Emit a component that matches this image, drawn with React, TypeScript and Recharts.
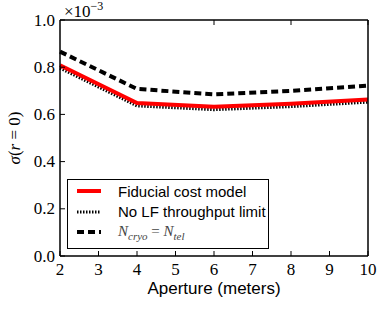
import React from 'react';
import { LineChart, Line, XAxis, YAxis, Label } from 'recharts';

const apertures = [2, 4, 6, 8, 10];
const fiducialCost = [0.808, 0.648, 0.632, 0.645, 0.663];
const noLfLimit = [0.796, 0.636, 0.62, 0.633, 0.652];
const cryoEqTel = [0.866, 0.708, 0.685, 0.7, 0.722];
const xTicks = [2, 3, 4, 5, 6, 7, 8, 9, 10];
const yTicks = [0, 0.2, 0.4, 0.6, 0.8, 1.0];

const data = apertures.map((a, i) => ({
  aperture: a,
  fiducial: fiducialCost[i],
  noLf: noLfLimit[i],
  cryo: cryoEqTel[i],
}));

const SERIF = '"Liberation Serif", "DejaVu Serif", serif';
const SANS = '"Liberation Sans", Arial, sans-serif';
const TICK_LEN = 5;
const X_MARGIN = 7;
const Y_MARGIN = 5;

function BottomTick(props: any) {
  const { x, y, payload } = props;
  const axisY = y - X_MARGIN;
  return (
    <g>
      <line x1={x} x2={x} y1={axisY} y2={axisY - TICK_LEN} stroke="#000" />
      <text x={x} y={y} dy="0.71em" textAnchor="middle" style={{ fontFamily: SERIF, fontSize: 17 }} fill="#000">
        {payload.value}
      </text>
    </g>
  );
}

function LeftTick(props: any) {
  const { x, y, payload } = props;
  const axisX = x + Y_MARGIN;
  return (
    <g>
      <line x1={axisX} x2={axisX + TICK_LEN} y1={y} y2={y} stroke="#000" />
      <text x={x} y={y} dy="0.33em" textAnchor="end" style={{ fontFamily: SERIF, fontSize: 17 }} fill="#000">
        {Number(payload.value).toFixed(1)}
      </text>
    </g>
  );
}

function TopTick(props: any) {
  const { x, y } = props;
  return <line x1={x} x2={x} y1={y} y2={y + TICK_LEN} stroke="#000" />;
}

function RightTick(props: any) {
  const { x, y } = props;
  return <line x1={x} x2={x - TICK_LEN} y1={y} y2={y} stroke="#000" />;
}

function SigmaLabel(props: any) {
  const vb = props.viewBox || {};
  const cx = vb.x + 14;
  const cy = vb.y + vb.height / 2;
  return (
    <text x={cx} y={cy} transform={`rotate(-90, ${cx}, ${cy})`} textAnchor="middle" dy="0.35em"
      style={{ fontFamily: SERIF, fontSize: 17 }} fill="#000">
      <tspan fontStyle="italic">σ</tspan>(<tspan fontStyle="italic">r</tspan> = 0)
    </text>
  );
}

function LegendRow({ top, sample, children }: { top: number; sample: React.ReactNode; children: React.ReactNode }) {
  return (
    <div style={{ position: 'absolute', left: 0, top, height: 20, display: 'flex', alignItems: 'center' }}>
      <svg width={50} height={20} style={{ display: 'block' }}>{sample}</svg>
      <span style={{ whiteSpace: 'nowrap' }}>{children}</span>
    </div>
  );
}

export default function App() {
  const axisLine = { stroke: '#000', strokeWidth: 1.5 };
  return (
    <div style={{ position: 'absolute', left: 0, top: 0, width: 388, height: 310, background: '#fff' }}>
      <LineChart width={388} height={310} data={data} margin={{ top: 19, right: 19, bottom: 0, left: 0 }}>
        <XAxis dataKey="aperture" type="number" domain={[2, 10]} ticks={xTicks} height={54}
          tickSize={0} tickLine={false} tickMargin={X_MARGIN} tick={<BottomTick />} axisLine={axisLine}
          interval={0}>
          <Label value="Aperture (meters)" position="insideBottom" offset={16}
            style={{ fontFamily: SANS, fontSize: 17, fill: '#000' }} />
        </XAxis>
        <XAxis xAxisId="top" orientation="top" type="number" domain={[2, 10]} ticks={xTicks} height={1}
          tickSize={0} tickLine={false} tickMargin={0} tick={<TopTick />} axisLine={axisLine} interval={0} />
        <YAxis type="number" domain={[0, 1]} ticks={yTicks} width={60} tickSize={0} tickLine={false}
          tickMargin={Y_MARGIN} tick={<LeftTick />} axisLine={axisLine} interval={0}>
          <Label content={<SigmaLabel />} />
        </YAxis>
        <YAxis yAxisId="right" orientation="right" type="number" domain={[0, 1]} ticks={yTicks} width={1}
          tickSize={0} tickLine={false} tickMargin={0} tick={<RightTick />} axisLine={axisLine} interval={0} />
        <Line dataKey="noLf" stroke="#000" strokeWidth={3} strokeDasharray="1.5 1.5" dot={false}
          isAnimationActive={false} />
        <Line dataKey="fiducial" stroke="#ff0000" strokeWidth={4} dot={false} isAnimationActive={false} />
        <Line dataKey="cryo" stroke="#000" strokeWidth={4} strokeDasharray="7 4" dot={false}
          isAnimationActive={false} />
      </LineChart>

      <svg width={120} height={24} style={{ position: 'absolute', left: 60, top: 0 }}>
        <text x={4} y={17} style={{ fontFamily: SERIF, fontSize: 17 }} fill="#000">
          ×10<tspan dy={-7} fontSize={12}>−3</tspan>
        </text>
      </svg>

      <div style={{
        position: 'absolute', left: 67, top: 179, width: 202, height: 70, boxSizing: 'border-box',
        border: '1.5px solid #000', background: '#fff', fontFamily: SANS, fontSize: 15, color: '#000',
      }}>
        <LegendRow top={1} sample={<line x1={9} x2={33} y1={10} y2={10} stroke="#ff0000" strokeWidth={4} />}>
          Fiducial cost model
        </LegendRow>
        <LegendRow top={21.5} sample={<line x1={9} x2={33} y1={10} y2={10} stroke="#000" strokeWidth={3} strokeDasharray="1.5 1.5" />}>
          No LF throughput limit
        </LegendRow>
        <LegendRow top={42} sample={<line x1={9} x2={33} y1={10} y2={10} stroke="#000" strokeWidth={4} strokeDasharray="7 4" />}>
          <span style={{ fontFamily: SERIF, color: '#444' }}>
            <i>N</i><sub style={{ fontSize: 11, fontStyle: 'italic' }}>cryo</sub> = <i>N</i><sub style={{ fontSize: 11, fontStyle: 'italic' }}>tel</sub>
          </span>
        </LegendRow>
      </div>
    </div>
  );
}
